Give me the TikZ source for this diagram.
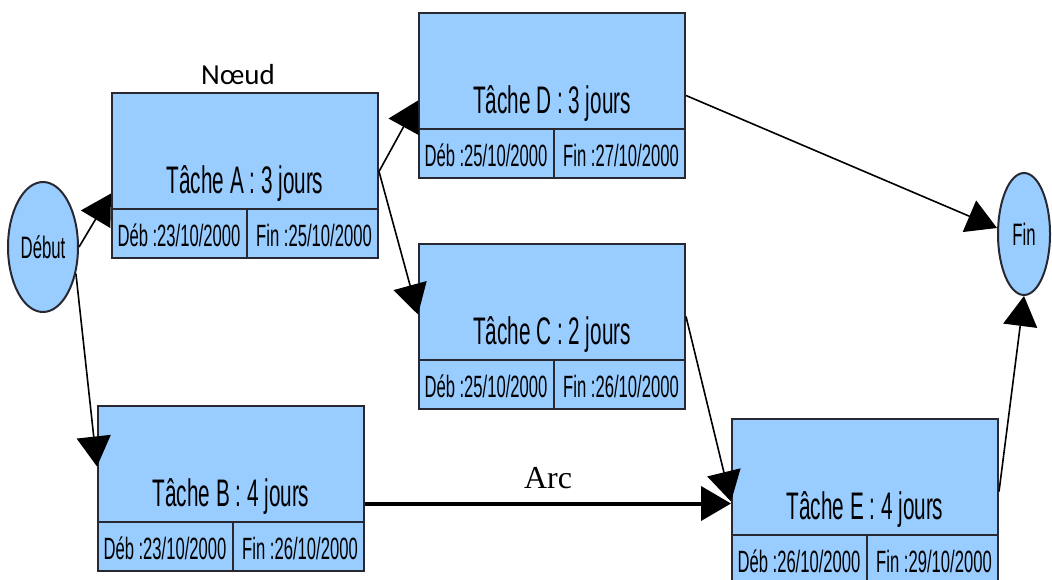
\documentclass[tikz,border=0pt]{standalone}
\usepackage{fontspec}
\setmainfont{Liberation Serif}
\newfontfamily\etroite[FakeStretch=0.54]{Liberation Sans}
\newfontfamily\calibri{Carlito}
\usetikzlibrary{arrows.meta,positioning,shapes.geometric}
\definecolor{bleutache}{RGB}{153,204,255}
\definecolor{bordtache}{RGB}{40,40,50}

% one task box: name, north-west corner, title, start date, end date
\newcommand{\tache}[5]{%
  \node[boite] (#1) at (#2) {};
  \draw[trait] ([yshift=25pt]#1.south west) -- ([yshift=25pt]#1.south east);
  \draw[trait] ([xshift=68pt]#1.south west) -- ++(0pt,25pt);
  \node[titre] (#1-titre) at ([yshift=33pt]#1.south) {#3};
  \node[date] (#1-deb) at ([shift={(34pt,6.5pt)}]#1.south west) {#4};
  \node[date] (#1-fin) at ([shift={(-32.5pt,6.5pt)}]#1.south east) {#5};
}

\begin{document}
\begin{tikzpicture}[
  x=0.5pt, y=-0.5pt,
  boite/.style={rectangle, draw=bordtache, line width=1pt, fill=bleutache,
    anchor=north west, minimum width=133pt, minimum height=82.5pt, inner sep=0pt},
  trait/.style={draw=bordtache, line width=1pt},
  titre/.style={anchor=base, inner sep=0pt, font=\etroite\fontsize{19.2}{22}\selectfont},
  date/.style={anchor=base, inner sep=0pt, font=\etroite\fontsize{15.4}{18}\selectfont},
  etape/.style={ellipse, draw=bordtache, line width=1pt, fill=bleutache,
    inner sep=0pt, font=\etroite\fontsize{15.5}{18}\selectfont},
  fleche/.style={-{Triangle[length=15pt,width=17pt]}, line width=0.8pt}
]
  \useasboundingbox (0,0) rectangle (1052,579);

  % start and end events
  \node[etape, minimum width=35pt, minimum height=65pt] (debut) at (43,247) {Début};
  \node[etape, minimum width=26pt, minimum height=61pt] (fin) at (1024,234) {Fin};

  % tasks
  \tache{A}{111,92}{Tâche A : 3 jours}{Déb :23/10/2000}{Fin :25/10/2000}
  \tache{D}{418,12}{Tâche D : 3 jours}{Déb :25/10/2000}{Fin :27/10/2000}
  \tache{C}{418,243}{Tâche C : 2 jours}{Déb :25/10/2000}{Fin :26/10/2000}
  \tache{B}{97,405}{Tâche B : 4 jours}{Déb :23/10/2000}{Fin :26/10/2000}
  \tache{E}{731,418}{Tâche E : 4 jours}{Déb :26/10/2000}{Fin :29/10/2000}

  \node[font=\calibri\fontsize{14.5}{17}\selectfont, above=0pt of A, xshift=-3.5pt] (noeud) {Nœud};

  % precedence arcs
  \draw[fleche] (debut.east) -- ([yshift=-9pt]A.west);
  \draw[fleche] (debut.-39) -- ([yshift=11pt]B.west);
  \draw[fleche] ([yshift=2pt]A.east) -- ([yshift=-2.5pt]D.west);
  \draw[fleche] ([yshift=2pt]A.east) -- ([yshift=6pt]C.west);
  \draw[fleche] (D.east) -- ([yshift=3pt]fin.west);
  \draw[fleche] ([yshift=5pt]C.east) -- (E.west);
  \draw[fleche, line width=2pt] ([yshift=-7.5pt]B.east) -- node[above=3pt, font=\fontsize{16}{19}\selectfont] (arc) {Arc} ([yshift=-7.5pt]B.east -| E.west);
  \draw[fleche] ([yshift=5pt]E.east) -- (fin.south);
\end{tikzpicture}
\end{document}
